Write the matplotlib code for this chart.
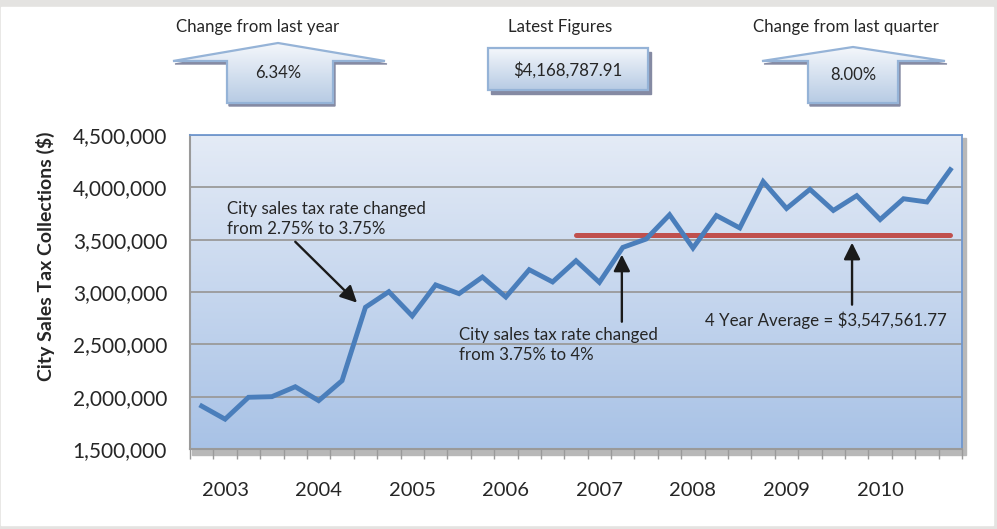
import numpy as np
import matplotlib
matplotlib.use("Agg")
import matplotlib.pyplot as plt
from matplotlib.patches import Polygon, Rectangle
from matplotlib.colors import LinearSegmentedColormap

plt.rcParams['font.family'] = ['Lato', 'DejaVu Sans']

# ---------------- data ----------------
collections = [1910000, 1785000, 1994000, 2000000, 2095000, 1962000, 2153000,
               2854000, 3003000, 2771000, 3068000, 2984000, 3143000, 2952000,
               3213000, 3096000, 3299000, 3092000, 3426000, 3506000, 3738000,
               3420000, 3731000, 3612000, 4055000, 3798000, 3981000, 3779000,
               3920300, 3692000, 3891000, 3860000, 4168787.91]
year_labels = ['2003', '2004', '2005', '2006', '2007', '2008', '2009', '2010']
year_label_index = [1, 5, 9, 13, 17, 21, 25, 29]
average_value = 3547561.77
average_start = 16
y_ticks = [1500000, 2000000, 2500000, 3000000, 3500000, 4000000, 4500000]
change_year = "6.34%"
latest_fig = "$4,168,787.91"
change_quarter = "8.00%"

W, H = 997, 529
fig = plt.figure(figsize=(W / 100, H / 100), dpi=100)

# background overlay axes in pixel coordinates
bg = fig.add_axes([0, 0, 1, 1], zorder=0)
bg.set_xlim(0, W)
bg.set_ylim(H, 0)
bg.axis('off')
bg.add_patch(Rectangle((0, 0), W, H, color='#e4e3e1', zorder=0))
bg.add_patch(Rectangle((1, 7), 992, 518, color='white', zorder=1))

box_cmap = LinearSegmentedColormap.from_list('box', ['#f4f7fb', '#b7cbe4'])
grad = np.linspace(0, 1, 256).reshape(-1, 1)


def grad_poly(pts, shadow=(3, 3)):
    sh = [(x + shadow[0], y + shadow[1]) for x, y in pts]
    bg.add_patch(Polygon(sh, closed=True, color='#858aa3', zorder=2))
    poly = Polygon(pts, closed=True, facecolor='none', edgecolor='#95b3d7',
                   linewidth=1.6, zorder=4)
    xs = [p[0] for p in pts]
    ys = [p[1] for p in pts]
    im = bg.imshow(grad, cmap=box_cmap, aspect='auto',
                   extent=[min(xs), max(xs), max(ys), min(ys)], zorder=3)
    clip = Polygon(pts, closed=True, transform=bg.transData)
    im.set_clip_path(clip)
    bg.add_patch(poly)


def up_arrow(tip_x, tip_y, wing_l, wing_r, base_y, sh_l, sh_r, bottom):
    return [(tip_x, tip_y), (wing_r, base_y), (sh_r, base_y), (sh_r, bottom),
            (sh_l, bottom), (sh_l, base_y), (wing_l, base_y)]


grad_poly(up_arrow(278, 43, 173, 385, 61, 227, 333, 103), shadow=(2, 3))
grad_poly([(488, 48), (648, 48), (648, 90), (488, 90)], shadow=(3, 4))
grad_poly(up_arrow(853, 47, 762, 945, 61, 808, 898, 103), shadow=(2, 3))
bg.set_xlim(0, W)
bg.set_ylim(H, 0)

txt_kw = dict(color='#262626', ha='center', va='center', zorder=5)
bg.text(258, 27, "Change from last year", fontsize=12.2, **txt_kw)
bg.text(278, 73, change_year, fontsize=12, **txt_kw)
bg.text(560, 27, "Latest Figures", fontsize=12.2, **txt_kw)
bg.text(568, 70, latest_fig, fontsize=12.2, **txt_kw)
bg.text(846, 27, "Change from last quarter", fontsize=12.2, **txt_kw)
bg.text(853, 75, change_quarter, fontsize=12, **txt_kw)

# y axis title
bg.text(45, 256, "City Sales Tax Collections ($)", fontsize=14, fontweight='bold',
        color='#262626', rotation=90, ha='center', va='center', zorder=5)

# shadow for plot area
L, R, T, B = 190, 962, 135, 449
bg.add_patch(Rectangle((L + 2, T + 3), R - L + 2, B - T + 3, color='#b8b8b8', zorder=2))

# ---------------- main axes ----------------
ax = fig.add_axes([L / W, 1 - B / H, (R - L) / W, (B - T) / H], zorder=2)
ax.patch.set_visible(False)
plot_cmap = LinearSegmentedColormap.from_list('plot', ['#a8c2e6', '#e4ebf6'])
ax.imshow(grad, cmap=plot_cmap, aspect='auto', extent=[0, 1, 0, 1],
          transform=ax.transAxes, origin='lower', zorder=0)

x = np.arange(len(collections))
ax.plot(x, collections, color='#4a7ebb', linewidth=3.5, solid_joinstyle='miter',
        zorder=4)
ax.plot([x[average_start], x[-1]], [average_value, average_value],
        color='#c0504d', linewidth=3.6, solid_capstyle='round', zorder=3)

ax.set_xlim(-0.5, len(collections) - 0.5)
ax.set_ylim(y_ticks[0], y_ticks[-1])
ax.set_yticks(y_ticks)
ax.set_yticklabels([f"{v:,}" for v in y_ticks], fontsize=15, color='#262626')
ax.yaxis.grid(True, color='#9a9a9a', linewidth=1.3, zorder=1)
ax.set_axisbelow(True)
ax.tick_params(axis='y', length=0, pad=16.5)

ax.set_xticks(year_label_index)
ax.set_xticklabels(year_labels, fontsize=14.5, color='#262626')
ax.set_xticks(np.arange(-0.5, len(collections)), minor=True)
ax.tick_params(axis='x', which='major', length=0, pad=24)
ax.tick_params(axis='x', which='minor', length=7, color='#9a9a9a', width=1)

for s in ['left', 'bottom']:
    ax.spines[s].set_color('#9a9a9a')
    ax.spines[s].set_linewidth(1.5)
for s in ['top', 'right']:
    ax.spines[s].set_color('#6f97cf')
    ax.spines[s].set_linewidth(1.3)

ann_kw = dict(fontsize=12.2, color='#262626', linespacing=1.3, zorder=6)
arrow_kw = dict(arrowstyle='-|>,head_length=1.0,head_width=0.5', color='#1a1a1a',
                lw=1.7, shrinkA=0, shrinkB=0)
ax.annotate("", xy=(6.64, 2898000), xytext=(4.0, 3480000), arrowprops=arrow_kw, zorder=6)
ax.text(1.08, 3700000, "City sales tax rate changed\nfrom 2.75% to 3.75%",
        ha='left', va='center', **ann_kw)
ax.annotate("", xy=(17.96, 3357000), xytext=(17.96, 2716000), arrowprops=arrow_kw, zorder=6)
ax.text(11.0, 2497000, "City sales tax rate changed\nfrom 3.75% to 4%",
        ha='left', va='center', **ann_kw)
ax.annotate("", xy=(27.8, 3471000), xytext=(27.8, 2879000), arrowprops=arrow_kw, zorder=6)
ax.text(26.7, 2726000, "4 Year Average = $3,547,561.77",
        ha='center', va='center', **ann_kw)

fig.savefig("out.png", dpi=100)
